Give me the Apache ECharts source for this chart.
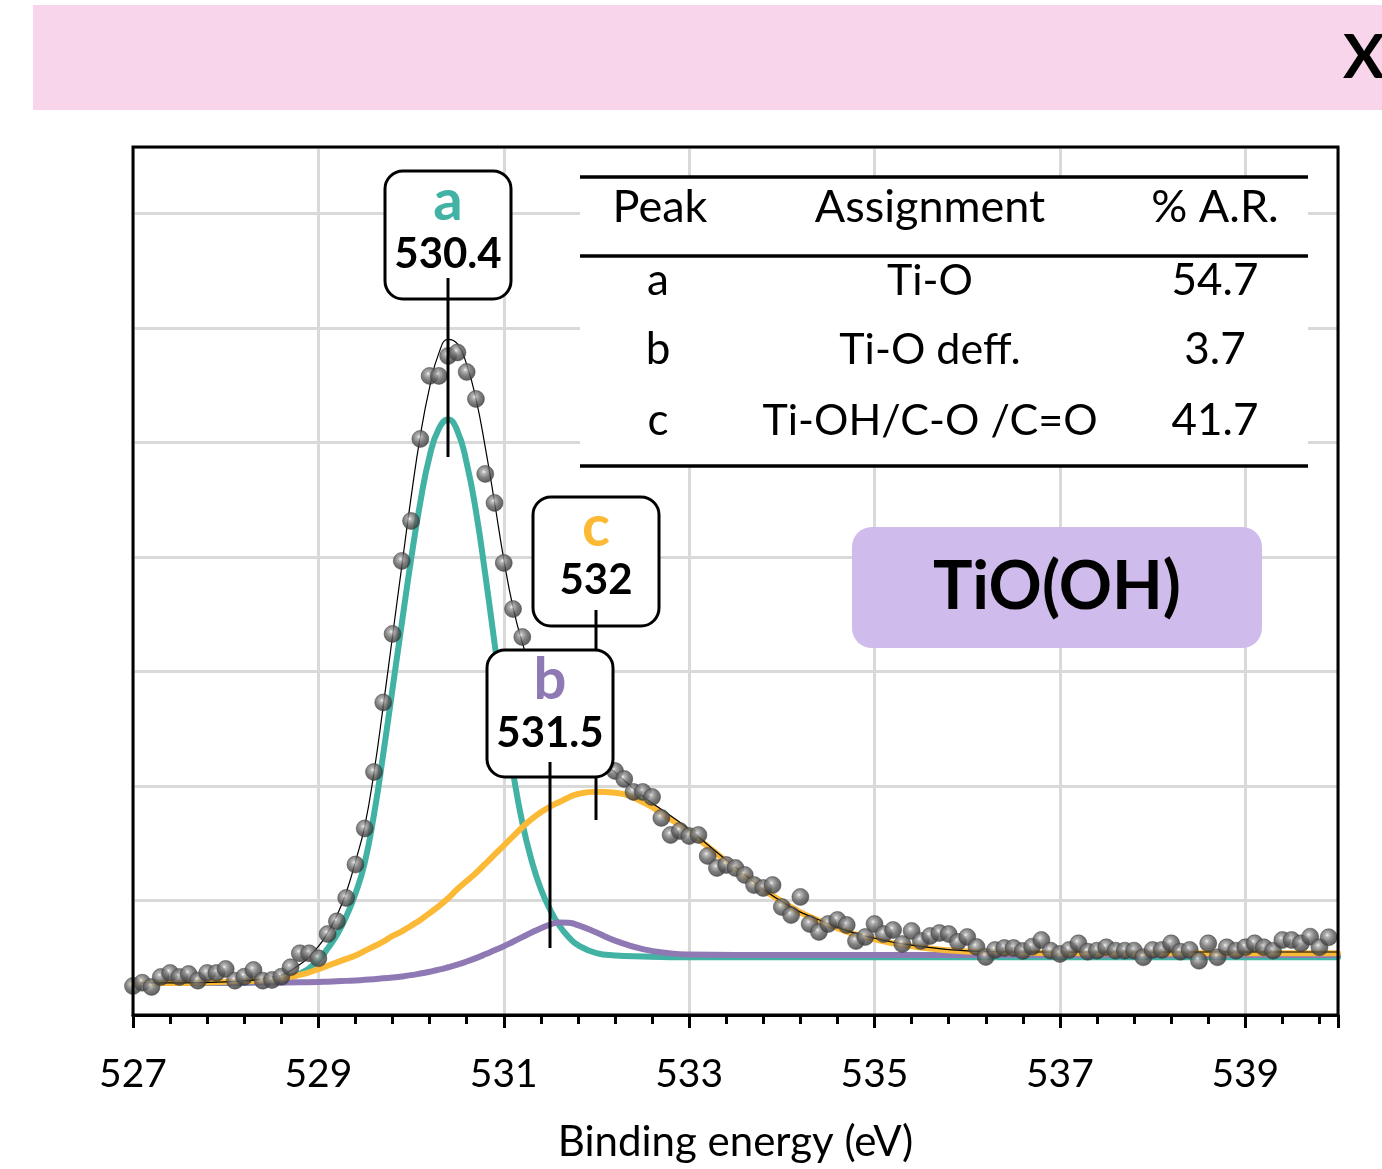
<!DOCTYPE html>
<html>
<head>
<meta charset="utf-8">
<script src="https://cdn.jsdelivr.net/npm/echarts@6/dist/echarts.min.js"></script>
<style>
html,body{margin:0;padding:0;background:#fff;}
#chart{width:1382px;height:1169px;}
</style>
</head>
<body>
<div id="chart"></div>
<script>
// ---------- data ----------
const energies = [
527.0,527.1,527.2,527.3,527.4,527.5,527.6,527.7,527.8,527.9,
528.0,528.1,528.2,528.3,528.4,528.5,528.6,528.7,528.8,528.9,
529.0,529.1,529.2,529.3,529.4,529.5,529.6,529.7,529.8,529.9,
530.0,530.1,530.2,530.3,530.4,530.5,530.6,530.7,530.8,530.9,
531.0,531.1,531.2,531.3,531.4,531.5,531.6,531.7,531.8,531.9,
532.0,532.1,532.2,532.3,532.4,532.5,532.6,532.7,532.8,532.9,
533.0,533.1,533.2,533.3,533.4,533.5,533.6,533.7,533.8,533.9,
534.0,534.1,534.2,534.3,534.4,534.5,534.6,534.7,534.8,534.9,
535.0,535.1,535.2,535.3,535.4,535.5,535.6,535.7,535.8,535.9,
536.0,536.1,536.2,536.3,536.4,536.5,536.6,536.7,536.8,536.9,
537.0,537.1,537.2,537.3,537.4,537.5,537.6,537.7,537.8,537.9,
538.0,538.1,538.2,538.3,538.4,538.5,538.6,538.7,538.8,538.9,
539.0,539.1,539.2,539.3,539.4,539.5,539.6,539.7,539.8,539.9
];
const counts = [
0.253,0.282,0.245,0.332,0.367,0.332,0.358,0.300,0.367,0.367,
0.402,0.300,0.334,0.393,0.300,0.306,0.334,0.417,0.539,0.539,
0.495,0.707,0.818,1.022,1.314,1.629,2.122,2.729,3.328,3.965,
4.314,5.031,5.581,5.581,5.755,5.786,5.616,5.380,4.725,4.472,
3.948,3.545,3.301,3.020,2.850,2.720,2.600,2.500,2.420,2.340,
2.260,2.190,2.131,2.061,1.948,1.948,1.904,1.721,1.572,1.607,
1.563,1.572,1.389,1.284,1.310,1.284,1.223,1.135,1.109,1.135,
0.943,0.873,1.031,0.795,0.725,0.795,0.830,0.786,0.646,0.681,
0.795,0.707,0.742,0.620,0.734,0.646,0.690,0.716,0.707,0.638,
0.681,0.594,0.507,0.568,0.585,0.585,0.559,0.597,0.655,0.562,
0.533,0.568,0.626,0.553,0.562,0.591,0.562,0.562,0.562,0.504,
0.568,0.568,0.626,0.553,0.568,0.474,0.626,0.504,0.591,0.562,
0.591,0.626,0.591,0.562,0.655,0.655,0.626,0.684,0.591,0.679
];
const curveX = [527,527.5,528,528.5,528.8,529,529.1,529.2,529.3,529.4,529.5,529.6,529.7,529.8,529.9,
530,530.1,530.2,530.3,530.4,530.5,530.6,530.7,530.8,530.9,531,531.1,531.2,531.3,531.4,531.5,531.6,531.7,531.8,
532,532.2,532.5,532.8,533,533.5,534,534.5,535,535.5,536,536.5,537,538,539,540];
const peakA = [0.28,0.28,0.28,0.30,0.36,0.48,0.58,0.70,0.86,1.06,1.33,1.75,2.28,2.85,3.42,
3.98,4.48,4.88,5.12,5.20,5.10,4.82,4.40,3.85,3.25,2.65,2.12,1.68,1.35,1.10,0.92,0.78,0.68,0.61,
0.54,0.52,0.51,0.505,0.505,0.505,0.505,0.505,0.505,0.505,0.505,0.505,0.505,0.505,0.505,0.505];
const peakB = [0.28,0.281,0.282,0.284,0.286,0.288,0.291,0.294,0.298,0.302,0.307,0.313,0.320,0.328,0.337,
0.348,0.362,0.378,0.396,0.417,0.440,0.467,0.497,0.530,0.565,0.600,0.640,0.680,0.720,0.758,0.790,0.808,0.805,0.785,
0.720,0.650,0.575,0.538,0.528,0.525,0.525,0.525,0.525,0.525,0.525,0.525,0.525,0.525,0.525,0.525];
const peakC = [0.28,0.28,0.29,0.31,0.35,0.40,0.43,0.46,0.49,0.52,0.56,0.60,0.64,0.69,0.73,
0.78,0.83,0.89,0.95,1.02,1.10,1.17,1.24,1.32,1.40,1.48,1.56,1.64,1.71,1.77,1.82,1.86,1.90,1.93,
1.95,1.94,1.86,1.71,1.60,1.28,0.99,0.79,0.66,0.59,0.555,0.545,0.54,0.54,0.54,0.54];
const envelope = [0.28,0.28,0.29,0.33,0.44,0.60,0.72,0.87,1.07,1.34,1.65,2.12,2.70,3.31,3.92,
4.52,5.06,5.48,5.78,5.90,5.86,5.68,5.38,4.96,4.48,3.98,3.56,3.25,3.02,2.85,2.72,2.60,2.50,2.42,
2.26,2.12,1.91,1.74,1.62,1.29,0.99,0.80,0.67,0.60,0.56,0.55,0.55,0.55,0.55,0.55];
const xTickLabels = ['527','529','531','533','535','537','539'];
const peakNames = ['a','b','c'];
const peakPositions = [530.4, 531.5, 532.0];
const peakColors = ['#41B2A4','#8F79B4','#FBB935'];
const tableHeader = ['Peak','Assignment','% A.R.'];
const assignments = ['Ti-O','Ti-O deff.','Ti-OH/C-O /C=O'];
const areaRatios = ['54.7','3.7','41.7'];
const sampleName = 'TiO(OH)';
const xAxisTitle = 'Binding energy (eV)';
const bannerText = 'X';

// ---------- chart ----------
const FONT = 'Lato, "Open Sans", sans-serif';
const chart = echarts.init(document.getElementById('chart'), null, {renderer:'canvas'});
const zip = (xs, ys) => xs.map((x, i) => [x, ys[i]]);
const lineSeries = (data, color, width, z) => ({
  type:'line', data, smooth:0.5, showSymbol:false, silent:true, z,
  lineStyle:{color, width, cap:'round', join:'round'}, emphasis:{disabled:true}
});

chart.setOption({
  animation:false,
  backgroundColor:'#fff',
  grid:{left:133, right:44, top:147, bottom:154, show:false},
  xAxis:{
    type:'value', min:527, max:540, interval:2,
    axisLine:{show:true, onZero:false, lineStyle:{color:'#000', width:3}},
    axisTick:{show:true, inside:false, length:13, lineStyle:{color:'#000', width:3}},
    minorTick:{show:true, splitNumber:5, length:9, lineStyle:{color:'#000', width:3}},
    splitLine:{show:true, lineStyle:{color:'#D9D9D9', width:3}},
    minorSplitLine:{show:false},
    axisLabel:{show:true, margin:40, fontFamily:FONT, fontSize:39, color:'#000',
      formatter: v => { const s = String(Math.round(v)); return xTickLabels.includes(s) ? s : ''; }},
    name:xAxisTitle, nameLocation:'middle', nameGap:106,
    nameTextStyle:{fontFamily:FONT, fontSize:42, color:'#000'}
  },
  yAxis:{
    type:'value', min:0, max:7.58, interval:1,
    axisLine:{show:false}, axisTick:{show:false}, axisLabel:{show:false},
    splitLine:{show:true, lineStyle:{color:'#D9D9D9', width:3}}
  },
  series:[
    lineSeries(zip(curveX, peakA), peakColors[0], 6, 2),
    lineSeries(zip(curveX, peakB), peakColors[1], 6, 3),
    lineSeries(zip(curveX, peakC), peakColors[2], 6, 4),
    lineSeries(zip(curveX, envelope), '#000', 1.2, 5),
    {
      type:'scatter', data:zip(energies, counts), symbol:'circle', symbolSize:17, z:6, silent:true,
      itemStyle:{
        color:{type:'radial', x:0.42, y:0.38, r:0.68, colorStops:[
          {offset:0, color:'#f2f2f2'}, {offset:0.16, color:'#a6a6a6'},
          {offset:0.5, color:'#606060'}, {offset:0.85, color:'#3a3a3a'}, {offset:1, color:'#303030'}]},
        borderWidth:0.6, borderColor:'#3a3a3a'
      }
    }
  ]
});

// ---------- annotations ----------
const px = (x, y) => chart.convertToPixel({gridIndex:0}, [x, y]);
const txt = (text, x, y, font, fill, align) => ({
  type:'text', z:120, silent:true,
  style:{text, x, y, font, fill:fill || '#000',
    align:align || 'center', verticalAlign:'middle',
    textAlign:align || 'center', textVerticalAlign:'middle'}
});
const seg = (x1, y1, x2, y2, w, z) => ({
  type:'line', z:z || 120, silent:true,
  shape:{x1, y1, x2, y2}, style:{stroke:'#000', lineWidth:w}
});
const g = [];

// plot frame drawn from the axis extents
const p0 = px(527, 0), p1 = px(540, 7.58);
g.push({type:'rect', z:50, silent:true,
  shape:{x:p0[0], y:p1[1], width:p1[0] - p0[0], height:p0[1] - p1[1]},
  style:{fill:null, stroke:'#000', lineWidth:3}});

// banner
g.push({type:'rect', z:100, silent:true, shape:{x:33, y:5, width:1349, height:105}, style:{fill:'#F8D5EB'}});
g.push(txt(bannerText, 1343, 58, 'bold 62px ' + FONT, '#000', 'left'));

// table
g.push({type:'rect', z:110, silent:true, shape:{x:580, y:177, width:728, height:289}, style:{fill:'#fff'}});
g.push(seg(580, 177, 1308, 177, 3.5));
g.push(seg(580, 256, 1308, 256, 3.5));
g.push(seg(580, 466, 1308, 466, 3.5));
const colX = [660, 930, 1215];
tableHeader.forEach((h, i) => g.push(txt(h, colX[i], 207, '45px ' + FONT)));
const rowY = [281, 350, 421];
peakNames.forEach((n, r) => {
  g.push(txt(n, colX[0] - 2, rowY[r], '44px ' + FONT));
  g.push(txt(assignments[r], colX[1], rowY[r], '43px ' + FONT));
  g.push(txt(areaRatios[r], colX[2], rowY[r], '44px ' + FONT));
});

// sample box
g.push({type:'rect', z:110, silent:true, shape:{x:852, y:527, width:410, height:121, r:20}, style:{fill:'#CFBCEC'}});
g.push(txt(sampleName, 1057, 588, 'bold 66px ' + FONT));

// peak label boxes (a, c, b order so that b lies over c's leader)
const boxDefs = {
  a:{top:171, bottom:299, lineTop:278, lineEnd:457, z:130},
  c:{top:497, bottom:626, lineTop:610, lineEnd:820, z:140},
  b:{top:650, bottom:777, lineTop:762, lineEnd:948, z:150}
};
['a','c','b'].forEach(name => {
  const i = peakNames.indexOf(name);
  const d = boxDefs[name];
  const cx = Math.round(px(peakPositions[i], 0)[0]);
  const w = 126;
  g.push({type:'rect', z:d.z, silent:true, shape:{x:cx - w/2, y:d.top, width:w, height:d.bottom - d.top, r:18},
    style:{fill:'#fff', stroke:'#000', lineWidth:3}});
  g.push(Object.assign(txt(name, cx, d.top + 30, 'bold 58px ' + FONT, peakColors[i]), {z:d.z + 1}));
  g.push(Object.assign(txt(String(peakPositions[i]), cx, d.top + 83, 'bold 42px ' + FONT), {z:d.z + 1}));
  g.push(seg(cx, d.lineTop, cx, d.lineEnd, 3, d.z + 1));
});

chart.setOption({graphic:{elements:g}});
</script>
</body>
</html>
